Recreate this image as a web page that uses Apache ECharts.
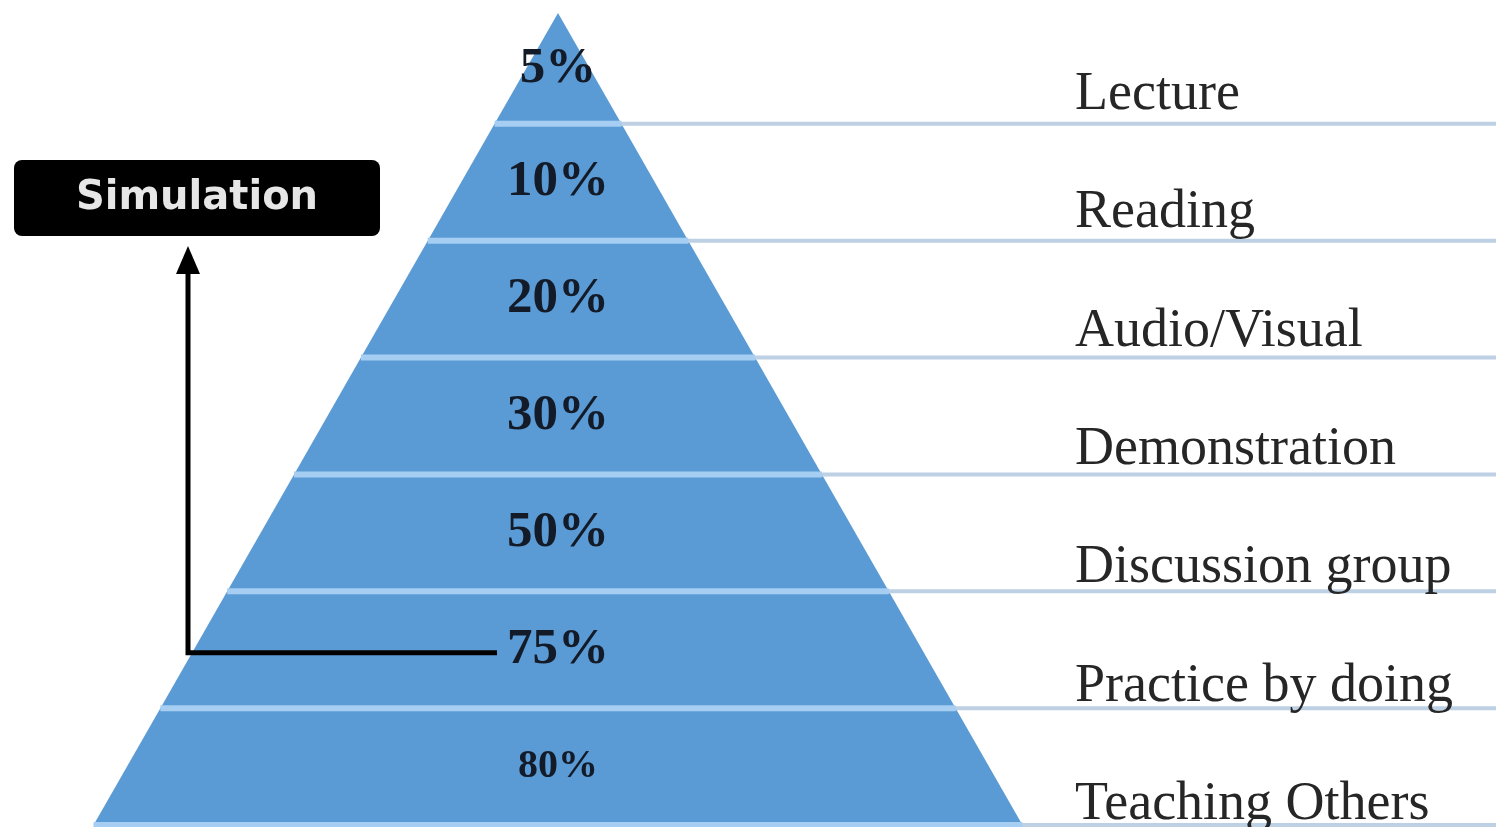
<!DOCTYPE html>
<html><head><meta charset="utf-8">
<script src="https://cdn.jsdelivr.net/npm/echarts@6/dist/echarts.min.js"></script>
<style>html,body{margin:0;padding:0;background:#fff}#c{width:1496px;height:827px}</style>
</head><body><div id="c"></div>
<script>
// ---- data ----
const methods = ['Lecture', 'Reading', 'Audio/Visual', 'Demonstration', 'Discussion group', 'Practice by doing', 'Teaching Others'];
const retention = [5, 10, 20, 30, 50, 75, 80];
const retentionLabels = retention.map(v => v + '%');
const annotationText = 'Simulation';
const annotatedMethod = 'Practice by doing';

// ---- style / layout ----
const FILL = '#5b9bd5', SEP = '#a6cdf2', RULE = '#bdd0e4';
const APEX_Y = 13, SLOPE = 0.572, CX_VAL = 558;

const chart = echarts.init(document.getElementById('c'), null, { renderer: 'canvas' });

function renderItem(params, api) {
  const i = params.dataIndex;
  const c = api.coord([CX_VAL, i]);
  const cx = c[0], cy = c[1];
  const bh = api.size([0, 1])[1];
  const top = Math.max(cy - bh / 2, APEX_Y), bot = cy + bh / 2;
  const hw = y => (y - APEX_Y) * SLOPE;
  const right = params.coordSys.x + params.coordSys.width;
  const isLast = i === methods.length - 1;
  const children = [
    { type: 'polygon', z2: 1, shape: { points: [[cx - hw(top), top], [cx + hw(top), top], [cx + hw(bot), bot], [cx - hw(bot), bot]] }, style: { fill: FILL } },
    { type: 'line', z2: 4, shape: { x1: cx + hw(bot) - 2, y1: bot, x2: right, y2: bot }, style: { stroke: RULE, lineWidth: 4 } },
    { type: 'line', z2: 5, shape: { x1: cx - hw(bot), y1: bot, x2: cx + hw(bot), y2: bot }, style: { stroke: SEP, lineWidth: 6 } },
    { type: 'text', x: cx, y: (top + bot) / 2, z2: 10,
      style: { text: retentionLabels[i], fontFamily: 'Liberation Serif', fontWeight: 'bold', fontSize: isLast ? 40 : 51, fill: '#141b28', align: 'center', verticalAlign: 'middle' } },
    { type: 'text', x: 1075, y: bot - 29 + i * 1.5, z2: 10,
      style: { text: methods[i], fontFamily: 'Liberation Serif', fontSize: 54, fill: '#262626', align: 'left', verticalAlign: 'middle' } }
  ];
  if (methods[i] === annotatedMethod) {
    const ay = cy + 3;
    children.push(
      { type: 'polyline', z2: 20, shape: { points: [[497, ay], [188, ay], [188, 266]] }, style: { stroke: '#000', lineWidth: 5, fill: null, lineJoin: 'miter' } },
      { type: 'polygon', z2: 20, shape: { points: [[188, 246], [176, 274], [200, 274]] }, style: { fill: '#000' } },
      { type: 'rect', z2: 20, shape: { x: 14, y: 160, width: 366, height: 76, r: 8 }, style: { fill: '#000' } },
      { type: 'text', z2: 21, x: 197, y: 199, style: { text: annotationText, fontFamily: 'DejaVu Sans', fontWeight: 'bold', fontSize: 40, fill: '#e6e6e6', align: 'center', verticalAlign: 'middle' } }
    );
  }
  return { type: 'group', children };
}

chart.setOption({
  animation: false,
  backgroundColor: '#fff',
  grid: { left: 0, right: 0, top: 7, bottom: 2 },
  xAxis: { type: 'value', min: 0, max: 1496, show: false },
  yAxis: { type: 'category', data: methods, inverse: true, show: false },
  series: [{
    type: 'custom',
    renderItem,
    clip: false,
    encode: { x: 0, y: 1 },
    data: methods.map((m, i) => [retention[i], m])
  }]
});
</script></body></html>
